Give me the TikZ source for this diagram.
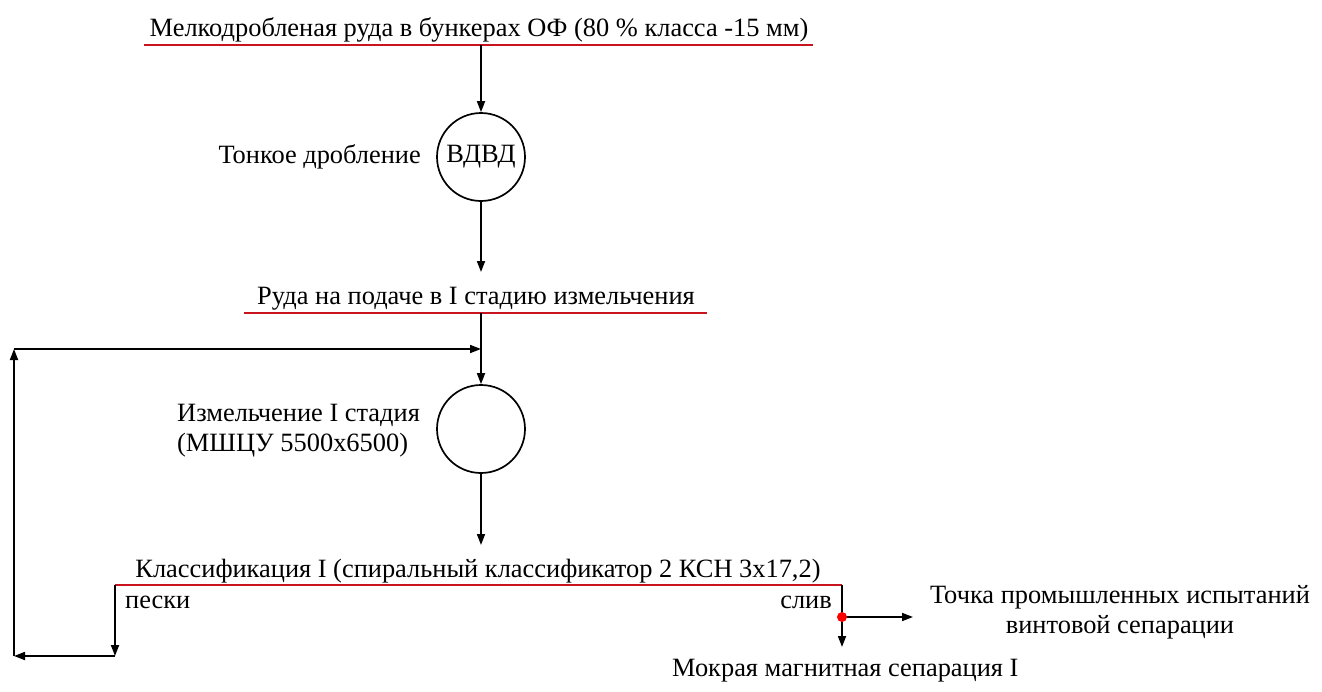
\documentclass[tikz,border=0pt]{standalone}
\usepackage{fontspec}
\setmainfont{Liberation Serif}
\usetikzlibrary{arrows.meta}
\definecolor{redline}{RGB}{200,20,30}
\begin{document}
\begin{tikzpicture}[x=1pt,y=-1pt,
  every node/.style={font=\fontsize{26.4}{30}\selectfont, inner sep=0pt},
  flow/.style={line width=1.7pt,-{Triangle[length=11pt,width=8pt]}},
  rline/.style={line width=2.6pt,draw=redline},
  machine/.style={circle,draw,line width=1.7pt,minimum size=88pt}]
\useasboundingbox (0,0) rectangle (1322,691);
% top product
\node[anchor=base] (t1) at (479,36) {Мелкодробленая руда в бункерах ОФ (80 \% класса -15 мм)};
\coordinate (r1L) at (144,45); \coordinate (r1R) at (813,45); \coordinate (r1) at (481,45);
\draw[rline] (r1L) -- (r1R);
% crusher
\node[machine] (c1) at (481,157) {ВДВД};
\node[anchor=east] (l1) at (421,157) {Тонкое дробление};
\draw[flow] (r1) -- (c1.north);
% feed
\node[anchor=base] (t2) at (476,304) {Руда на подаче в I стадию измельчения};
\coordinate (r2L) at (244,313); \coordinate (r2R) at (707,313); \coordinate (r2) at (481,313);
\coordinate (r2a) at (481,272);
\draw[flow] (c1.south) -- (r2a);
\draw[rline] (r2L) -- (r2R);
% mill
\node[machine] (c2) at (481,429) {};
\node[anchor=west,align=left] (l2) at (177,431) {Измельчение I стадия\\(МШЦУ 5500x6500)};
\draw[flow] (r2) -- (c2.north);
% classification
\node[anchor=base] (t3) at (478,577) {Классификация I (спиральный классификатор 2 КСН 3x17,2)};
\coordinate (r3L) at (115,585); \coordinate (r3R) at (842,585);
\coordinate (r3a) at (481,545);
\draw[flow] (c2.south) -- (r3a);
\draw[rline] (r3L) -- (r3R);
\node[anchor=base west] (sand) at (125,608) {пески};
\node[anchor=base east] (over) at (832,608) {слив};
% recycle
\coordinate (p1) at (115,656);
\coordinate (p2) at (14,656);
\coordinate (p3) at (14,349);
\coordinate (p4) at (481,349);
\draw[flow] (r3L) -- (p1);
\draw[flow] (p1) -- (p2);
\draw[flow] (p2) -- (p3);
\draw[flow] (p3) -- (p4);
% overflow
\coordinate (dot) at (842,617);
\coordinate (tp) at (913,617);
\coordinate (mm) at (842,647);
\draw[flow] (r3R) -- (mm);
\draw[flow] (dot) -- (tp);
\fill[red] (dot) circle (5pt);
\node[align=center] (pt) at (1120,612) {Точка промышленных испытаний\\винтовой сепарации};
\node[anchor=base west] (wms) at (672,676) {Мокрая магнитная сепарация I};
\end{tikzpicture}
\end{document}
